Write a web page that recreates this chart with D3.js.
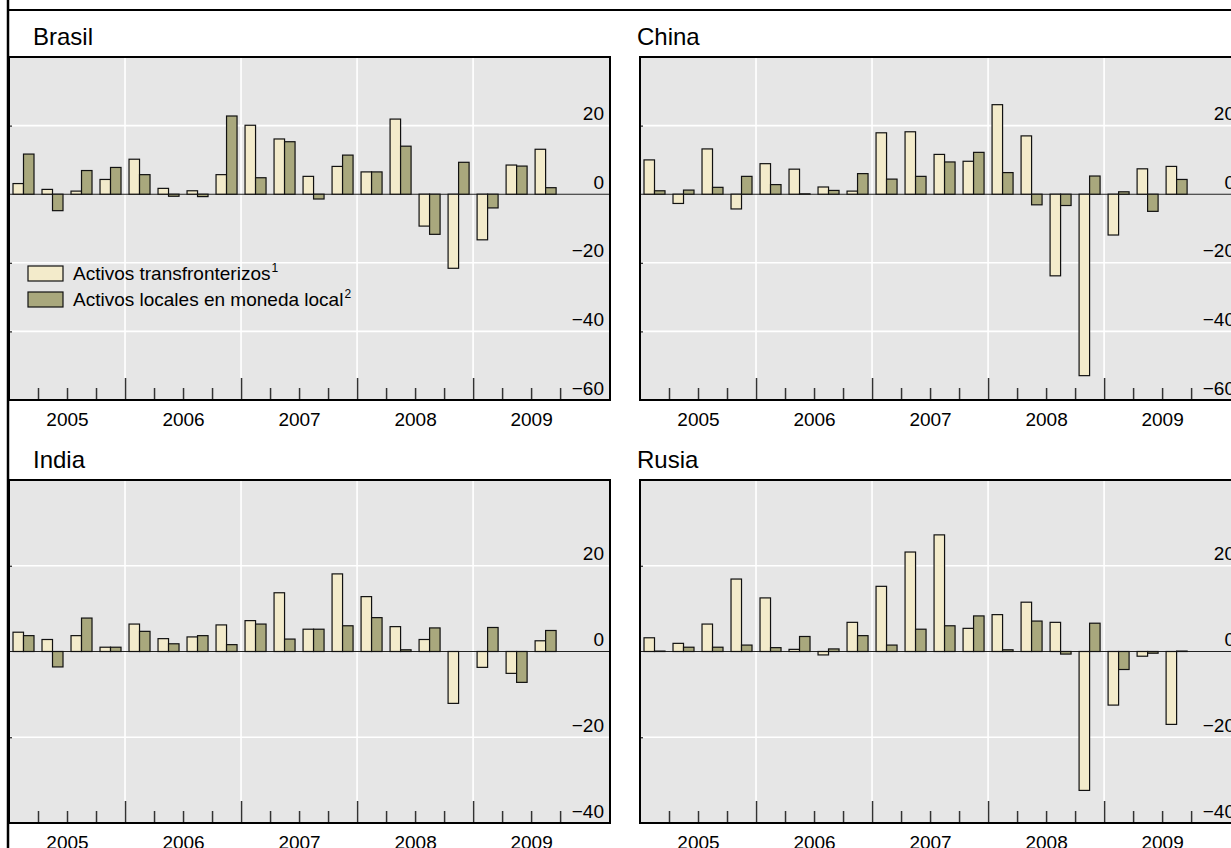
<!DOCTYPE html>
<html>
<head>
<meta charset="utf-8">
<script src="https://cdn.jsdelivr.net/npm/d3@7"></script>
<style>
  html, body { margin: 0; padding: 0; background: #fff; }
  svg { display: block; font-family: "Liberation Sans", Arial, Helvetica, sans-serif; }
</style>
</head>
<body>
<svg id="chart" width="1231" height="848"></svg>
<script>
// Quarterly flows, 2005 T1 – 2009 T3
const quarters = [
  "2005-T1", "2005-T2", "2005-T3", "2005-T4",
  "2006-T1", "2006-T2", "2006-T3", "2006-T4",
  "2007-T1", "2007-T2", "2007-T3", "2007-T4",
  "2008-T1", "2008-T2", "2008-T3", "2008-T4",
  "2009-T1", "2009-T2", "2009-T3"
];
const yearLabels = ["2005", "2006", "2007", "2008", "2009"];
const seriesNames = ["Activos transfronterizos", "Activos locales en moneda local"];
const seriesNotes = ["1", "2"];

const brasilTransfronterizos = [3.1, 1.4, 0.9, 4.3, 10.2, 1.7, 1.0, 5.7, 20.1, 16.1, 5.2, 8.1, 6.5, 21.9, -9.3, -21.6, -13.3, 8.5, 13.1];
const brasilLocales          = [11.7, -4.8, 6.9, 7.8, 5.7, -0.6, -0.7, 22.8, 4.8, 15.3, -1.4, 11.4, 6.5, 14.0, -11.7, 9.3, -4.0, 8.2, 1.9];

const chinaTransfronterizos  = [10.0, -2.7, 13.2, -4.3, 8.9, 7.3, 2.1, 0.9, 17.9, 18.2, 11.6, 9.6, 26.1, 17.0, -23.8, -52.9, -11.9, 7.4, 8.1];
const chinaLocales           = [1.0, 1.2, 2.0, 5.2, 2.8, 0.1, 1.1, 6.0, 4.4, 5.2, 9.4, 12.2, 6.3, -3.1, -3.3, 5.3, 0.7, -5.0, 4.3];

const indiaTransfronterizos  = [4.5, 2.8, 3.7, 1.0, 6.4, 3.0, 3.4, 6.2, 7.2, 13.7, 5.2, 18.1, 12.8, 5.8, 2.8, -12.1, -3.7, -5.1, 2.5];
const indiaLocales           = [3.7, -3.6, 7.8, 1.0, 4.7, 1.8, 3.7, 1.6, 6.4, 2.9, 5.2, 6.0, 7.9, 0.4, 5.5, 0.0, 5.6, -7.2, 4.9];

const rusiaTransfronterizos  = [3.2, 1.9, 6.4, 16.9, 12.5, 0.5, -0.8, 6.8, 15.2, 23.2, 27.2, 5.4, 8.6, 11.5, 6.8, -32.4, -12.5, -1.1, -17.0];
const rusiaLocales           = [0.1, 1.0, 1.0, 1.5, 0.9, 3.5, 0.6, 3.7, 1.5, 5.2, 6.0, 8.3, 0.4, 7.1, -0.6, 6.6, -4.2, -0.4, 0.1];

const ticksWide   = [-60, -40, -20, 0, 20];
const ticksNarrow = [-40, -20, 0, 20];

const colors = { trans: "#f3ebcb", local: "#a9a87d", plot: "#e6e6e6" };

const svg = d3.select("#chart");
const W = 601, H = 343;
const colX = [9, 640], rowY = [57, 480];
const titleX = [24, -3];

// outer frame rules
svg.append("line").attr("x1", 8).attr("x2", 1231).attr("y1", 10).attr("y2", 10)
  .attr("stroke", "#000").attr("stroke-width", 2);
svg.append("line").attr("x1", 8).attr("x2", 8).attr("y1", 0).attr("y2", 848)
  .attr("stroke", "#000").attr("stroke-width", 2.5);

const panels = [
  { name: "Brasil", trans: brasilTransfronterizos, local: brasilLocales, domain: [-60, 40], ticks: ticksWide,   col: 0, row: 0, legend: true },
  { name: "China",  trans: chinaTransfronterizos,  local: chinaLocales,  domain: [-60, 40], ticks: ticksWide,   col: 1, row: 0 },
  { name: "India",  trans: indiaTransfronterizos,  local: indiaLocales,  domain: [-40, 40], ticks: ticksNarrow, col: 0, row: 1 },
  { name: "Rusia",  trans: rusiaTransfronterizos,  local: rusiaLocales,  domain: [-40, 40], ticks: ticksNarrow, col: 1, row: 1 }
];

// "2007-T3" -> fractional year at the quarter's midpoint
const quarterMid = q => {
  const [yr, t] = q.split("-T");
  return +yr + (+t - 0.5) / 4;
};

panels.forEach(p => {
  const g = svg.append("g").attr("transform", `translate(${colX[p.col]},${rowY[p.row]})`);

  const x = d3.scaleLinear().domain([2005, 2010.18]).range([0, W]);
  const y = d3.scaleLinear().domain(p.domain).range([H, 0]);
  const quarterW = x(2005.25) - x(2005);
  const barW = quarterW * 0.362;

  g.append("text").attr("x", titleX[p.col]).attr("y", -12)
    .attr("font-size", 24).attr("fill", "#000").text(p.name);

  g.append("rect").attr("width", W).attr("height", H).attr("fill", colors.plot);

  // white grid
  const gridY = p.ticks.filter(t => t !== 0 && t !== p.domain[0]);
  g.selectAll(".gy").data(gridY).join("line")
    .attr("x1", 0).attr("x2", W).attr("y1", d => y(d)).attr("y2", d => y(d))
    .attr("stroke", "#fff").attr("stroke-width", 1.6);
  const yearBounds = yearLabels.slice(1).map(Number);
  g.selectAll(".gx").data(yearBounds).join("line")
    .attr("x1", d => x(d)).attr("x2", d => x(d)).attr("y1", 0).attr("y2", H)
    .attr("stroke", "#fff").attr("stroke-width", 1.6);

  // zero line
  g.append("line").attr("x1", 0).attr("x2", W).attr("y1", y(0)).attr("y2", y(0))
    .attr("stroke", "#222").attr("stroke-width", 1.1);

  // bars
  const rows = quarters.map((q, i) => ({ c: x(quarterMid(q)), trans: p.trans[i], local: p.local[i] }));
  const bar = (sel, key, dx) => sel.selectAll("." + key).data(rows).join("rect")
    .attr("x", d => d.c + dx)
    .attr("width", barW)
    .attr("y", d => Math.min(y(d[key]), y(0)))
    .attr("height", d => Math.abs(y(d[key]) - y(0)))
    .attr("fill", colors[key])
    .attr("stroke", "#111").attr("stroke-width", 1.2);
  bar(g, "trans", -barW);
  bar(g, "local", 0);

  // bottom ticks: years (long) and quarters (short)
  const minor = d3.range(2005, 2010).flatMap(yr => [yr + 0.25, yr + 0.5, yr + 0.75]);
  const majorAxis = g.append("g").attr("transform", `translate(0,${H})`)
    .call(d3.axisBottom(x).tickValues(yearBounds).tickSizeInner(-22).tickSizeOuter(0).tickFormat(""));
  const minorAxis = g.append("g").attr("transform", `translate(0,${H})`)
    .call(d3.axisBottom(x).tickValues(minor).tickSizeInner(-12).tickSizeOuter(0).tickFormat(""));
  [majorAxis, minorAxis].forEach(a => {
    a.select(".domain").remove();
    a.selectAll("line").attr("stroke", "#333").attr("stroke-width", 1.5);
  });

  // year labels centred in each year
  const labelAxis = g.append("g").attr("transform", `translate(0,${H})`)
    .call(d3.axisBottom(x).tickValues(yearLabels.map(yr => +yr + 0.5))
      .tickSize(0).tickPadding(0).tickFormat((d, i) => yearLabels[i]));
  labelAxis.select(".domain").remove();
  labelAxis.selectAll("text").attr("dy", null).attr("y", 26)
    .attr("font-size", 19).attr("fill", "#000").attr("font-family", null);

  // value labels inside the plot, right-aligned above each grid level
  const valueAxis = g.append("g").attr("transform", `translate(${W - 6},0)`)
    .call(d3.axisLeft(y).tickValues(p.ticks).tickSize(0).tickPadding(0)
      .tickFormat(d => d < 0 ? "\u2212" + Math.abs(d) : String(d)));
  valueAxis.select(".domain").remove();
  valueAxis.selectAll("text").attr("dy", -6)
    .attr("font-size", 19).attr("fill", "#000").attr("font-family", null);

  // small marks on the left edge
  const leftAxis = g.append("g")
    .call(d3.axisLeft(y).tickValues(gridY).tickSizeInner(-3).tickSizeOuter(0).tickFormat(""));
  leftAxis.select(".domain").remove();
  leftAxis.selectAll("line").attr("stroke", "#222").attr("stroke-width", 1.2);

  // panel border
  g.append("rect").attr("width", W).attr("height", H)
    .attr("fill", "none").attr("stroke", "#000").attr("stroke-width", 2);

  if (p.legend) {
    const lg = g.append("g").attr("transform", "translate(19,209)");
    ["trans", "local"].forEach((k, i) => {
      const row = lg.append("g").attr("transform", `translate(0,${i * 26})`);
      row.append("rect").attr("width", 35).attr("height", 15)
        .attr("fill", colors[k]).attr("stroke", "#111").attr("stroke-width", 1.2);
      const t = row.append("text").attr("x", 45).attr("y", 13.5)
        .attr("font-size", 19).attr("fill", "#000");
      t.append("tspan").text(seriesNames[i]);
      t.append("tspan").attr("font-size", 12).attr("dy", -8).attr("dx", 1).text(seriesNotes[i]);
    });
  }
});
</script>
</body>
</html>
